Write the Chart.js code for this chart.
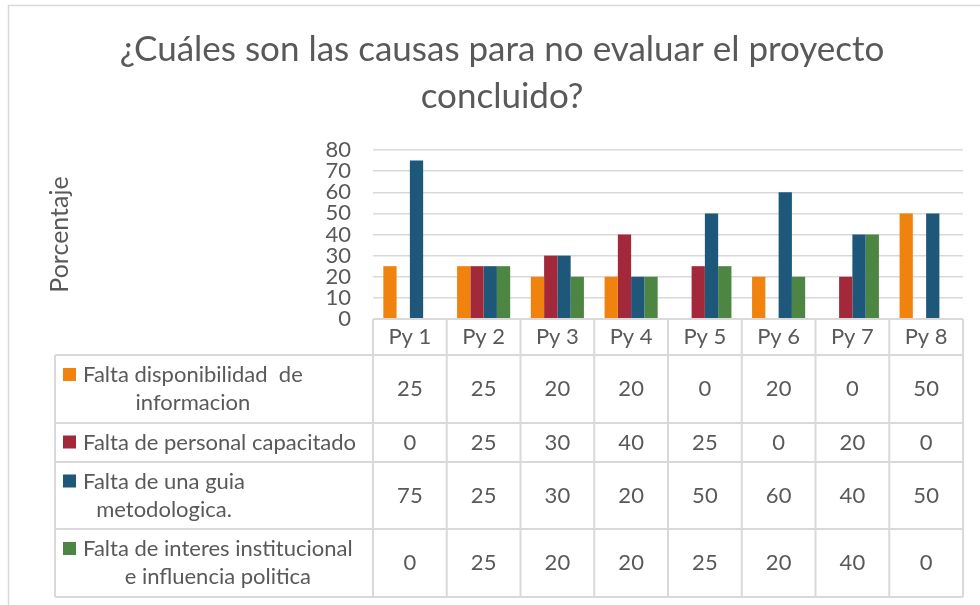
<!DOCTYPE html>
<html>
<head>
<meta charset="utf-8">
<script src="https://cdn.jsdelivr.net/npm/chart.js@4/dist/chart.umd.min.js"></script>
<style>
  body { margin: 0; background: #fff; }
</style>
</head>
<body>
<canvas id="myChart" width="980" height="605"></canvas>
<script>
// datos del grafico
var categories = ['Py 1', 'Py 2', 'Py 3', 'Py 4', 'Py 5', 'Py 6', 'Py 7', 'Py 8'];
var seriesLabels = [
  ['Falta disponibilidad  de', 'informacion'],
  ['Falta de personal capacitado'],
  ['Falta de una guia', 'metodologica.'],
  ['Falta de interes institucional', 'e influencia politica']
];
var faltaDisponibilidad = [25, 25, 20, 20, 0, 20, 0, 50];
var faltaPersonal = [0, 25, 30, 40, 25, 0, 20, 0];
var faltaGuia = [75, 25, 30, 20, 50, 60, 40, 50];
var faltaInteres = [0, 25, 20, 20, 25, 20, 40, 0];
var colores = ['#F0820E', '#A2283A', '#1D577A', '#4D8642'];

var fontFamily = 'Lato, "Open Sans", sans-serif';
var textColor = '#595959';
var lineColor = '#D9D9D9';

// filas de la tabla de datos: alto de cada fila
var headerHeight = 36;
var rowHeights = [68, 39, 67, 68];
var tableLeft = 55;

var tablaPlugin = {
  id: 'tabla',
  beforeDraw: function (chart) {
    var ctx = chart.ctx;
    ctx.save();
    ctx.strokeStyle = lineColor;
    ctx.lineWidth = 1.5;
    ctx.beginPath();
    ctx.moveTo(8.5, 605);
    ctx.lineTo(8.5, 5.5);
    ctx.lineTo(980, 5.5);
    ctx.stroke();
    ctx.restore();
  },
  afterDraw: function (chart) {
    var ctx = chart.ctx;
    var area = chart.chartArea;
    var x = chart.scales.x;
    var colW = area.width / categories.length;
    var top = area.bottom;
    var datos = chart.data.datasets;

    ctx.save();
    ctx.strokeStyle = lineColor;
    ctx.lineWidth = 2;
    ctx.fillStyle = textColor;
    ctx.font = '22px ' + fontFamily;
    ctx.textBaseline = 'middle';

    // encabezado
    var y0 = top;
    var y1 = top + headerHeight;
    var total = rowHeights.reduce(function (a, b) { return a + b; }, 0);
    var bottom = y1 + total;

    ctx.beginPath();
    // lineas verticales de columnas
    for (var i = 0; i <= categories.length; i++) {
      var cx = area.left + i * colW;
      ctx.moveTo(cx, y0);
      ctx.lineTo(cx, bottom);
    }
    ctx.moveTo(tableLeft, y1);
    ctx.lineTo(tableLeft, bottom);
    // lineas horizontales
    ctx.moveTo(area.left, y0);
    ctx.lineTo(area.right, y0);
    var yy = y1;
    ctx.moveTo(tableLeft, yy);
    ctx.lineTo(area.right, yy);
    for (var r = 0; r < rowHeights.length; r++) {
      yy += rowHeights[r];
      ctx.moveTo(tableLeft, yy);
      ctx.lineTo(area.right, yy);
    }
    ctx.stroke();

    ctx.textAlign = 'center';
    categories.forEach(function (c, i) {
      ctx.fillText(c, x.getPixelForValue(i), (y0 + y1) / 2);
    });

    yy = y1;
    for (r = 0; r < rowHeights.length; r++) {
      var mid = yy + rowHeights[r] / 2;
      var lines = seriesLabels[r];
      var l1y = lines.length > 1 ? mid - 14 : mid;
      // cuadro de leyenda
      ctx.fillStyle = colores[r];
      ctx.fillRect(63, l1y - 7, 13, 13);
      ctx.fillStyle = textColor;
      ctx.textAlign = 'left';
      ctx.fillText(lines[0], 83, l1y);
      if (lines.length > 1) {
        var w = ctx.measureText(lines[0]).width;
        ctx.textAlign = 'center';
        ctx.fillText(lines[1], 83 + w / 2, l1y + 28);
      }
      ctx.textAlign = 'center';
      datos[r].data.forEach(function (v, i) {
        ctx.fillText(String(v), x.getPixelForValue(i), mid);
      });
      yy += rowHeights[r];
    }
    ctx.restore();
  }
};

var ctx = document.getElementById('myChart').getContext('2d');
var myChart = new Chart(ctx, {
  type: 'bar',
  data: {
    labels: categories,
    datasets: [
      { label: seriesLabels[0].join(' '), data: faltaDisponibilidad, backgroundColor: colores[0] },
      { label: seriesLabels[1].join(' '), data: faltaPersonal, backgroundColor: colores[1] },
      { label: seriesLabels[2].join(' '), data: faltaGuia, backgroundColor: colores[2] },
      { label: seriesLabels[3].join(' '), data: faltaInteres, backgroundColor: colores[3] }
    ]
  },
  options: {
    responsive: false,
    animation: false,
    devicePixelRatio: 1,
    layout: { padding: { left: 41, right: 17, top: 0, bottom: 286 } },
    datasets: { bar: { categoryPercentage: 0.72, barPercentage: 1, borderWidth: 0 } },
    plugins: {
      legend: { display: false },
      tooltip: { enabled: false },
      title: {
        display: true,
        text: ['¿Cuáles son las causas para no evaluar el proyecto', 'concluido?'],
        color: textColor,
        font: { family: fontFamily, size: 35, weight: 'normal', lineHeight: '47px' },
        padding: { top: 26.5, bottom: 29.5 }
      }
    },
    scales: {
      x: { display: false },
      y: {
        min: 0,
        max: 80,
        afterFit: function (scale) { scale.width = 373 - 41; },
        ticks: { stepSize: 10, autoSkip: false, padding: 22, color: textColor, font: { family: fontFamily, size: 22, lineHeight: 1 } },
        grid: { color: lineColor, lineWidth: 1.5, drawTicks: false },
        border: { display: false },
        title: {
          display: true,
          text: 'Porcentaje',
          color: textColor,
          font: { family: fontFamily, size: 25 }
        }
      }
    }
  },
  plugins: [tablaPlugin]
});
</script>
</body>
</html>
